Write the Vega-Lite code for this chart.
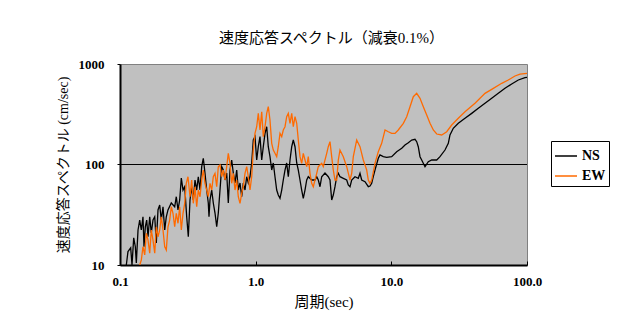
{
  "$schema": "https://vega.github.io/schema/vega-lite/v6.json",
  "autosize": {"type": "none"},
  "width": 407,
  "height": 201,
  "padding": {"left": 120, "top": 64, "right": 96, "bottom": 68},
  "background": "white",
  "title": {"text": "速度応答スペクトル（減衰0.1%）", "font": "Liberation Serif, Noto Sans CJK JP", "fontSize": 15, "fontWeight": "normal", "color": "black", "offset": 12, "dx": 8},
  "config": {
    "view": {"fill": "#C0C0C0", "stroke": "#808080", "strokeWidth": 1}
  },
  "datasets": {
    "spec": [
      {"s":"NS","t":0.1113,"v":10},{"s":"NS","t":0.1145,"v":13.6},{"s":"NS","t":0.1199,"v":14.8},{"s":"NS","t":0.1226,"v":10},{"s":"NS","t":0.1262,"v":18.6},{"s":"NS","t":0.1297,"v":15.2},{"s":"NS","t":0.1319,"v":10.5},{"s":"NS","t":0.1358,"v":22.3},{"s":"NS","t":0.1397,"v":28},{"s":"NS","t":0.1436,"v":22.3},{"s":"NS","t":0.1477,"v":30.2},{"s":"NS","t":0.1503,"v":15.2},{"s":"NS","t":0.1537,"v":24},{"s":"NS","t":0.1573,"v":28},{"s":"NS","t":0.1609,"v":19.1},{"s":"NS","t":0.1656,"v":30.2},{"s":"NS","t":0.1701,"v":20.8},{"s":"NS","t":0.1751,"v":28},{"s":"NS","t":0.1803,"v":30.2},{"s":"NS","t":0.1852,"v":16.6},{"s":"NS","t":0.1906,"v":35.3},{"s":"NS","t":0.1962,"v":39.5},{"s":"NS","t":0.2016,"v":28},{"s":"NS","t":0.2075,"v":38},{"s":"NS","t":0.2136,"v":22.3},{"s":"NS","t":0.2194,"v":30.2},{"s":"NS","t":0.2258,"v":35.3},{"s":"NS","t":0.2388,"v":41.4},{"s":"NS","t":0.253,"v":38},{"s":"NS","t":0.26,"v":47.8},{"s":"NS","t":0.2676,"v":35.3},{"s":"NS","t":0.2754,"v":44.4},{"s":"NS","t":0.2831,"v":73.4},{"s":"NS","t":0.2914,"v":55.7},{"s":"NS","t":0.2999,"v":60.1},{"s":"NS","t":0.3102,"v":30.2},{"s":"NS","t":0.3188,"v":19.1},{"s":"NS","t":0.3281,"v":44.4},{"s":"NS","t":0.3377,"v":60.1},{"s":"NS","t":0.347,"v":44.4},{"s":"NS","t":0.3572,"v":70.1},{"s":"NS","t":0.3676,"v":55.7},{"s":"NS","t":0.3777,"v":75.6},{"s":"NS","t":0.3888,"v":55.7},{"s":"NS","t":0.4002,"v":95.1},{"s":"NS","t":0.4111,"v":115.3},{"s":"NS","t":0.4231,"v":82.3},{"s":"NS","t":0.4356,"v":55.7},{"s":"NS","t":0.4475,"v":41.4},{"s":"NS","t":0.4529,"v":30.2},{"s":"NS","t":0.4607,"v":44.4},{"s":"NS","t":0.4742,"v":55.7},{"s":"NS","t":0.4872,"v":41.4},{"s":"NS","t":0.5015,"v":32.9},{"s":"NS","t":0.5162,"v":24},{"s":"NS","t":0.5304,"v":32.9},{"s":"NS","t":0.5459,"v":55.7},{"s":"NS","t":0.5619,"v":95.1},{"s":"NS","t":0.5774,"v":88.1},{"s":"NS","t":0.5942,"v":70.1},{"s":"NS","t":0.6116,"v":82.3},{"s":"NS","t":0.6284,"v":41.4},{"s":"NS","t":0.6468,"v":88.1},{"s":"NS","t":0.6657,"v":110.9},{"s":"NS","t":0.6841,"v":82.3},{"s":"NS","t":0.7042,"v":65.5},{"s":"NS","t":0.7248,"v":88.1},{"s":"NS","t":0.7447,"v":55.7},{"s":"NS","t":0.7665,"v":65.5},{"s":"NS","t":0.7889,"v":47.8},{"s":"NS","t":0.8106,"v":65.5},{"s":"NS","t":0.8344,"v":55.7},{"s":"NS","t":0.8587,"v":75.6},{"s":"NS","t":0.8824,"v":65.5},{"s":"NS","t":0.9082,"v":75.6},{"s":"NS","t":0.9349,"v":103.5},{"s":"NS","t":0.9605,"v":175.3},{"s":"NS","t":0.9887,"v":189.2},{"s":"NS","t":1.0176,"v":110.9},{"s":"NS","t":1.0457,"v":150.3},{"s":"NS","t":1.0762,"v":189.2},{"s":"NS","t":1.108,"v":110.9},{"s":"NS","t":1.138,"v":150.3},{"s":"NS","t":1.172,"v":204.2},{"s":"NS","t":1.206,"v":237.7},{"s":"NS","t":1.239,"v":150.3},{"s":"NS","t":1.275,"v":119.6},{"s":"NS","t":1.313,"v":88.1},{"s":"NS","t":1.349,"v":103.5},{"s":"NS","t":1.388,"v":75.6},{"s":"NS","t":1.429,"v":55.7},{"s":"NS","t":1.468,"v":49.7},{"s":"NS","t":1.511,"v":46.1},{"s":"NS","t":1.556,"v":55.7},{"s":"NS","t":1.598,"v":70.1},{"s":"NS","t":1.645,"v":88.1},{"s":"NS","t":1.693,"v":103.5},{"s":"NS","t":1.74,"v":75.6},{"s":"NS","t":1.791,"v":110.9},{"s":"NS","t":1.844,"v":150.3},{"s":"NS","t":1.894,"v":175.3},{"s":"NS","t":1.95,"v":150.3},{"s":"NS","t":2.007,"v":103.5},{"s":"NS","t":2.062,"v":88.1},{"s":"NS","t":2.122,"v":70.1},{"s":"NS","t":2.184,"v":55.7},{"s":"NS","t":2.244,"v":46.1},{"s":"NS","t":2.31,"v":55.7},{"s":"NS","t":2.378,"v":70.1},{"s":"NS","t":2.443,"v":75.6},{"s":"NS","t":2.588,"v":70.1},{"s":"NS","t":2.737,"v":70.1},{"s":"NS","t":2.818,"v":75.6},{"s":"NS","t":2.895,"v":70.1},{"s":"NS","t":2.98,"v":60.1},{"s":"NS","t":3.067,"v":75.6},{"s":"NS","t":3.243,"v":82.3},{"s":"NS","t":3.43,"v":75.6},{"s":"NS","t":3.531,"v":70.1},{"s":"NS","t":3.634,"v":44.4},{"s":"NS","t":3.734,"v":49.7},{"s":"NS","t":3.843,"v":60.1},{"s":"NS","t":3.957,"v":75.6},{"s":"NS","t":4.066,"v":81.7},{"s":"NS","t":4.184,"v":75.6},{"s":"NS","t":4.425,"v":72.9},{"s":"NS","t":4.688,"v":70.1},{"s":"NS","t":4.817,"v":62.5},{"s":"NS","t":4.958,"v":60.1},{"s":"NS","t":5.103,"v":70.1},{"s":"NS","t":5.396,"v":75.6},{"s":"NS","t":5.707,"v":72.9},{"s":"NS","t":5.875,"v":81.7},{"s":"NS","t":6.047,"v":70.1},{"s":"NS","t":6.395,"v":67.4},{"s":"NS","t":6.764,"v":60.1},{"s":"NS","t":6.962,"v":61.1},{"s":"NS","t":7.166,"v":65},{"s":"NS","t":7.362,"v":75.6},{"s":"NS","t":7.578,"v":88.1},{"s":"NS","t":8.015,"v":115.3},{"s":"NS","t":8.249,"v":124.4},{"s":"NS","t":8.724,"v":119.6},{"s":"NS","t":9.243,"v":118},{"s":"NS","t":10.06,"v":119.6},{"s":"NS","t":10.95,"v":134},{"s":"NS","t":11.93,"v":144.9},{"s":"NS","t":12.61,"v":156.3},{"s":"NS","t":13.34,"v":164.8},{"s":"NS","t":14.13,"v":175.3},{"s":"NS","t":14.94,"v":178.2},{"s":"NS","t":15.38,"v":168.7},{"s":"NS","t":15.8,"v":150.3},{"s":"NS","t":16.27,"v":119.6},{"s":"NS","t":16.74,"v":110.9},{"s":"NS","t":17.71,"v":95.1},{"s":"NS","t":18.73,"v":106.6},{"s":"NS","t":19.84,"v":110.9},{"s":"NS","t":21.6,"v":110.9},{"s":"NS","t":22.84,"v":119.6},{"s":"NS","t":24.86,"v":139.3},{"s":"NS","t":26.3,"v":162.5},{"s":"NS","t":27.06,"v":196.7},{"s":"NS","t":28.62,"v":229.1},{"s":"NS","t":31.16,"v":257},{"s":"NS","t":34.91,"v":288.4},{"s":"NS","t":39.12,"v":322.8},{"s":"NS","t":43.75,"v":362.2},{"s":"NS","t":49.02,"v":406.4},{"s":"NS","t":54.93,"v":456},{"s":"NS","t":61.43,"v":510.5},{"s":"NS","t":68.83,"v":572.8},{"s":"NS","t":77.12,"v":632.4},{"s":"NS","t":86.3,"v":693.4},{"s":"NS","t":96.6,"v":731},{"s":"NS","t":100,"v":737},
      {"s":"EW","t":0.1397,"v":10},{"s":"EW","t":0.1436,"v":11.2},{"s":"EW","t":0.1477,"v":15.2},{"s":"EW","t":0.1521,"v":12.6},{"s":"EW","t":0.1563,"v":20.7},{"s":"EW","t":0.1609,"v":17.7},{"s":"EW","t":0.1656,"v":13.1},{"s":"EW","t":0.1701,"v":22.3},{"s":"EW","t":0.1751,"v":17.7},{"s":"EW","t":0.1803,"v":13.1},{"s":"EW","t":0.1852,"v":24},{"s":"EW","t":0.1906,"v":19.1},{"s":"EW","t":0.1962,"v":22.3},{"s":"EW","t":0.2016,"v":30.2},{"s":"EW","t":0.2075,"v":22.3},{"s":"EW","t":0.2136,"v":15.2},{"s":"EW","t":0.2194,"v":14.1},{"s":"EW","t":0.2258,"v":24},{"s":"EW","t":0.2324,"v":28},{"s":"EW","t":0.2388,"v":38},{"s":"EW","t":0.2458,"v":32.7},{"s":"EW","t":0.253,"v":24},{"s":"EW","t":0.26,"v":32.7},{"s":"EW","t":0.2676,"v":26},{"s":"EW","t":0.2754,"v":38},{"s":"EW","t":0.2831,"v":22.3},{"s":"EW","t":0.2914,"v":32.7},{"s":"EW","t":0.2999,"v":41.1},{"s":"EW","t":0.3081,"v":65},{"s":"EW","t":0.3171,"v":75.6},{"s":"EW","t":0.3281,"v":47.8},{"s":"EW","t":0.3377,"v":70.1},{"s":"EW","t":0.347,"v":41.1},{"s":"EW","t":0.3572,"v":60.1},{"s":"EW","t":0.3676,"v":38},{"s":"EW","t":0.3777,"v":55.7},{"s":"EW","t":0.3888,"v":47.8},{"s":"EW","t":0.4002,"v":70.1},{"s":"EW","t":0.4111,"v":88.1},{"s":"EW","t":0.4231,"v":65},{"s":"EW","t":0.4356,"v":55.7},{"s":"EW","t":0.4475,"v":47.8},{"s":"EW","t":0.4607,"v":65},{"s":"EW","t":0.4742,"v":55.7},{"s":"EW","t":0.4872,"v":75.6},{"s":"EW","t":0.5015,"v":81.7},{"s":"EW","t":0.5162,"v":60.1},{"s":"EW","t":0.5304,"v":95.1},{"s":"EW","t":0.5459,"v":98.9},{"s":"EW","t":0.5619,"v":75.6},{"s":"EW","t":0.5774,"v":88.1},{"s":"EW","t":0.5942,"v":70.1},{"s":"EW","t":0.6116,"v":95.1},{"s":"EW","t":0.6284,"v":129.2},{"s":"EW","t":0.6468,"v":102.8},{"s":"EW","t":0.6657,"v":65},{"s":"EW","t":0.6841,"v":81.7},{"s":"EW","t":0.7042,"v":55.7},{"s":"EW","t":0.7248,"v":70.1},{"s":"EW","t":0.7447,"v":47.8},{"s":"EW","t":0.7665,"v":41.1},{"s":"EW","t":0.7889,"v":51.7},{"s":"EW","t":0.8106,"v":60.1},{"s":"EW","t":0.8344,"v":81.7},{"s":"EW","t":0.8587,"v":95.1},{"s":"EW","t":0.8824,"v":75.6},{"s":"EW","t":0.9082,"v":55.7},{"s":"EW","t":0.9349,"v":75.6},{"s":"EW","t":0.9605,"v":139.3},{"s":"EW","t":0.9887,"v":204.2},{"s":"EW","t":1.0176,"v":237.7},{"s":"EW","t":1.0457,"v":322.8},{"s":"EW","t":1.0762,"v":220.4},{"s":"EW","t":1.108,"v":335},{"s":"EW","t":1.138,"v":189.2},{"s":"EW","t":1.172,"v":237.7},{"s":"EW","t":1.206,"v":322.8},{"s":"EW","t":1.239,"v":376},{"s":"EW","t":1.275,"v":277.3},{"s":"EW","t":1.313,"v":162.5},{"s":"EW","t":1.349,"v":139.3},{"s":"EW","t":1.388,"v":129.2},{"s":"EW","t":1.429,"v":119.6},{"s":"EW","t":1.468,"v":150.3},{"s":"EW","t":1.511,"v":204.2},{"s":"EW","t":1.556,"v":189.2},{"s":"EW","t":1.598,"v":220.4},{"s":"EW","t":1.645,"v":237.7},{"s":"EW","t":1.693,"v":299},{"s":"EW","t":1.74,"v":322.8},{"s":"EW","t":1.791,"v":257},{"s":"EW","t":1.844,"v":322.8},{"s":"EW","t":1.894,"v":237.7},{"s":"EW","t":1.95,"v":299},{"s":"EW","t":2.007,"v":257},{"s":"EW","t":2.062,"v":175.3},{"s":"EW","t":2.122,"v":119.6},{"s":"EW","t":2.184,"v":102.8},{"s":"EW","t":2.244,"v":129.2},{"s":"EW","t":2.31,"v":110.9},{"s":"EW","t":2.378,"v":95.1},{"s":"EW","t":2.443,"v":119.6},{"s":"EW","t":2.514,"v":81.7},{"s":"EW","t":2.588,"v":65},{"s":"EW","t":2.659,"v":60.1},{"s":"EW","t":2.737,"v":70.1},{"s":"EW","t":2.818,"v":81.7},{"s":"EW","t":2.895,"v":95.1},{"s":"EW","t":3.067,"v":102.8},{"s":"EW","t":3.151,"v":95.1},{"s":"EW","t":3.339,"v":129.2},{"s":"EW","t":3.43,"v":150.3},{"s":"EW","t":3.531,"v":168.7},{"s":"EW","t":3.634,"v":119.6},{"s":"EW","t":3.734,"v":88.1},{"s":"EW","t":3.843,"v":70.1},{"s":"EW","t":3.957,"v":70.1},{"s":"EW","t":4.066,"v":110.9},{"s":"EW","t":4.184,"v":139.3},{"s":"EW","t":4.425,"v":119.6},{"s":"EW","t":4.688,"v":95.1},{"s":"EW","t":4.958,"v":70.1},{"s":"EW","t":5.103,"v":81.7},{"s":"EW","t":5.244,"v":119.6},{"s":"EW","t":5.555,"v":175.3},{"s":"EW","t":5.875,"v":150.3},{"s":"EW","t":6.214,"v":110.9},{"s":"EW","t":6.583,"v":88.1},{"s":"EW","t":6.764,"v":70.1},{"s":"EW","t":6.962,"v":65},{"s":"EW","t":7.166,"v":70.1},{"s":"EW","t":7.578,"v":102.8},{"s":"EW","t":8.015,"v":134},{"s":"EW","t":8.488,"v":162.5},{"s":"EW","t":8.982,"v":220.4},{"s":"EW","t":9.497,"v":211.8},{"s":"EW","t":10.06,"v":204.2},{"s":"EW","t":10.64,"v":204.2},{"s":"EW","t":11.25,"v":220.4},{"s":"EW","t":12.26,"v":257},{"s":"EW","t":12.98,"v":299},{"s":"EW","t":13.73,"v":376},{"s":"EW","t":14.52,"v":473},{"s":"EW","t":15.38,"v":510.5},{"s":"EW","t":16.27,"v":456},{"s":"EW","t":17.21,"v":376},{"s":"EW","t":18.23,"v":311},{"s":"EW","t":19.28,"v":257},{"s":"EW","t":20.39,"v":220.4},{"s":"EW","t":21.6,"v":201},{"s":"EW","t":23.51,"v":196.7},{"s":"EW","t":25.6,"v":211.8},{"s":"EW","t":27.86,"v":247.2},{"s":"EW","t":31.16,"v":288.4},{"s":"EW","t":34.91,"v":335},{"s":"EW","t":41.37,"v":406.4},{"s":"EW","t":49.02,"v":510.5},{"s":"EW","t":54.93,"v":559.8},{"s":"EW","t":65.11,"v":642.7},{"s":"EW","t":72.8,"v":693.4},{"s":"EW","t":81.54,"v":760},{"s":"EW","t":88.8,"v":794},{"s":"EW","t":100,"v":808}
    ],
    "ref": [{"y": 100}]
  },
  "encoding": {
    "x": {
      "field": "t", "type": "quantitative",
      "scale": {"type": "log", "domain": [0.1, 100], "nice": false},
      "axis": {
        "title": "周期(sec)", "values": [0.1, 1, 10, 100], "format": ".1f",
        "grid": false, "domainColor": "black", "domainWidth": 2,
        "tickColor": "black", "tickSize": -4, "tickWidth": 1,
        "labelFont": "Liberation Serif", "labelFontWeight": "bold", "labelFontSize": 13, "labelColor": "black",
        "labelPadding": 14, "labelFlush": false,
        "titleFont": "Liberation Serif, Noto Sans CJK JP", "titleFontSize": 15, "titleFontWeight": "normal", "titleColor": "black", "titlePadding": 6
      }
    },
    "y": {
      "field": "v", "type": "quantitative",
      "scale": {"type": "log", "domain": [10, 1000], "nice": false},
      "axis": {
        "title": "速度応答スペクトル (cm/sec)", "values": [10, 100, 1000], "format": "d",
        "grid": false, "domainColor": "black", "domainWidth": 2,
        "tickColor": "black", "tickSize": 3, "tickWidth": 1,
        "labelFont": "Liberation Serif", "labelFontWeight": "bold", "labelFontSize": 13, "labelColor": "black",
        "labelPadding": 13, "labelFlush": false,
        "titleFont": "Liberation Serif, Noto Sans CJK JP", "titleFontSize": 14, "titleFontWeight": "normal", "titleColor": "black", "titlePadding": 8
      }
    },
    "color": {
      "field": "s", "type": "nominal",
      "scale": {"domain": ["NS", "EW"], "range": ["#000000", "#FF6A00"]},
      "legend": {
        "title": null, "orient": "none", "legendX": 431, "legendY": 77,
        "symbolType": "stroke", "symbolSize": 484, "symbolStrokeWidth": 1.5,
        "labelFont": "Liberation Serif", "labelFontWeight": "bold", "labelFontSize": 14, "labelColor": "black",
        "strokeColor": "black", "fillColor": "white", "padding": 3, "rowPadding": 1, "cornerRadius": 0
      }
    }
  },
  "layer": [
    {
      "data": {"name": "ref"},
      "mark": {"type": "rule", "color": "black", "strokeWidth": 1},
      "encoding": {
        "x": null,
        "color": null,
        "y": {"field": "y", "type": "quantitative"}
      }
    },
    {
      "data": {"name": "spec"},
      "transform": [{"filter": "datum.s === 'NS'"}],
      "mark": {"type": "line", "strokeWidth": 1.3, "clip": true}
    },
    {
      "data": {"name": "spec"},
      "transform": [{"filter": "datum.s === 'EW'"}],
      "mark": {"type": "line", "strokeWidth": 1.3, "clip": true}
    }
  ]
}
